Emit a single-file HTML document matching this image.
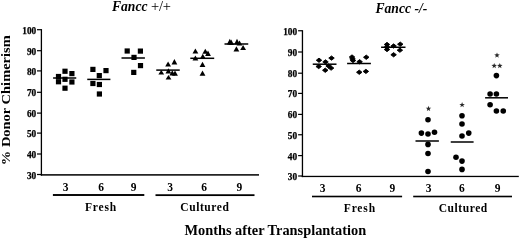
<!DOCTYPE html>
<html><head><meta charset="utf-8"><style>
html,body{margin:0;padding:0;background:#fff;}
body{width:520px;height:240px;overflow:hidden;}
svg{display:block;will-change:transform;filter:blur(0.3px);}
text{font-family:"Liberation Serif",serif;font-weight:bold;fill:#000;}
.tk{font-size:9.3px;stroke:#000;stroke-width:0.25px;}
.cat{font-size:11.5px;}
.grp{font-size:12.4px;}
.xt{font-size:14.35px;}
.ti{font-size:13.6px;}
.yt{font-size:12.5px;}
.ast{font-size:10px;}
</style></head><body>
<svg width="520" height="240" viewBox="0 0 520 240">
<rect width="520" height="240" fill="#fff"/>
<g fill="#000">
<rect x="40.75" y="29.10" width="1.3" height="146.50"/>
<rect x="40.80" y="174.15" width="218.20" height="1.5"/>
<rect x="37.00" y="173.90" width="4.40" height="1.2"/>
<text class="tk" x="36.2" y="178.50" text-anchor="end">30</text>
<rect x="37.00" y="153.40" width="4.40" height="1.2"/>
<text class="tk" x="36.2" y="158.00" text-anchor="end">40</text>
<rect x="37.00" y="132.50" width="4.40" height="1.2"/>
<text class="tk" x="36.2" y="137.10" text-anchor="end">50</text>
<rect x="37.00" y="112.50" width="4.40" height="1.2"/>
<text class="tk" x="36.2" y="117.10" text-anchor="end">60</text>
<rect x="37.00" y="91.70" width="4.40" height="1.2"/>
<text class="tk" x="36.2" y="96.30" text-anchor="end">70</text>
<rect x="37.00" y="70.30" width="4.40" height="1.2"/>
<text class="tk" x="36.2" y="74.90" text-anchor="end">80</text>
<rect x="37.00" y="50.10" width="4.40" height="1.2"/>
<text class="tk" x="36.2" y="54.70" text-anchor="end">90</text>
<rect x="37.00" y="29.10" width="4.40" height="1.2"/>
<text class="tk" x="36.2" y="33.70" text-anchor="end">100</text>
<rect x="301.80" y="30.20" width="1.3" height="146.90"/>
<rect x="301.70" y="175.80" width="217.10" height="1.3"/>
<rect x="298.10" y="175.40" width="4.35" height="1.2"/>
<text class="tk" x="297.1" y="180.00" text-anchor="end">30</text>
<rect x="298.10" y="155.00" width="4.35" height="1.2"/>
<text class="tk" x="297.1" y="159.60" text-anchor="end">40</text>
<rect x="298.10" y="134.15" width="4.35" height="1.2"/>
<text class="tk" x="297.1" y="138.75" text-anchor="end">50</text>
<rect x="298.10" y="113.80" width="4.35" height="1.2"/>
<text class="tk" x="297.1" y="118.40" text-anchor="end">60</text>
<rect x="298.10" y="92.80" width="4.35" height="1.2"/>
<text class="tk" x="297.1" y="97.40" text-anchor="end">70</text>
<rect x="298.10" y="72.60" width="4.35" height="1.2"/>
<text class="tk" x="297.1" y="77.20" text-anchor="end">80</text>
<rect x="298.10" y="51.40" width="4.35" height="1.2"/>
<text class="tk" x="297.1" y="56.00" text-anchor="end">90</text>
<rect x="298.10" y="30.15" width="4.35" height="1.2"/>
<text class="tk" x="297.1" y="34.75" text-anchor="end">100</text>
<text class="cat" x="65.6" y="191.3" text-anchor="middle">3</text>
<text class="cat" x="101.0" y="191.3" text-anchor="middle">6</text>
<text class="cat" x="133.7" y="191.3" text-anchor="middle">9</text>
<text class="cat" x="170.2" y="191.3" text-anchor="middle">3</text>
<text class="cat" x="204.2" y="191.3" text-anchor="middle">6</text>
<text class="cat" x="239.4" y="191.3" text-anchor="middle">9</text>
<text class="cat" x="322.7" y="191.9" text-anchor="middle">3</text>
<text class="cat" x="358.6" y="191.9" text-anchor="middle">6</text>
<text class="cat" x="392.4" y="191.9" text-anchor="middle">9</text>
<text class="cat" x="428.5" y="191.9" text-anchor="middle">3</text>
<text class="cat" x="461.9" y="191.9" text-anchor="middle">6</text>
<text class="cat" x="497.7" y="191.9" text-anchor="middle">9</text>
<rect x="52.90" y="194.05" width="91.40" height="1.9"/>
<rect x="155.50" y="194.25" width="99.00" height="1.8"/>
<rect x="312.00" y="195.70" width="90.10" height="1.6"/>
<rect x="413.20" y="195.70" width="98.80" height="1.6"/>
<text class="grp" transform="translate(101.02,210.6) scale(0.93,1)" x="0" y="0" text-anchor="middle" letter-spacing="0.9">Fresh</text>
<text class="grp" transform="translate(204.88,210.8) scale(0.93,1)" x="0" y="0" text-anchor="middle" letter-spacing="0.6">Cultured</text>
<text class="grp" transform="translate(359.82,211.8) scale(0.93,1)" x="0" y="0" text-anchor="middle" letter-spacing="0.9">Fresh</text>
<text class="grp" transform="translate(463.28,211.8) scale(0.93,1)" x="0" y="0" text-anchor="middle" letter-spacing="0.6">Cultured</text>
<text class="xt" x="275.3" y="235.4" text-anchor="middle">Months after Transplantation</text>
<text class="ti" x="112" y="10.8"><tspan font-style="italic">Fancc</tspan> <tspan font-weight="normal" font-size="14.5px" letter-spacing="-0.2px">+/+</tspan></text>
<text class="ti" x="375.5" y="12.8"><tspan font-style="italic">Fancc -/-</tspan></text>
<text class="yt" transform="translate(10.3,165.2) rotate(-90) scale(1.158,1)" x="0" y="0">% Donor Chimerism</text>
<rect x="62.40" y="68.65" width="5.2" height="5.2"/>
<rect x="69.30" y="71.00" width="5.2" height="5.2"/>
<rect x="55.90" y="73.90" width="5.2" height="5.2"/>
<rect x="55.90" y="79.15" width="5.2" height="5.2"/>
<rect x="62.40" y="76.70" width="5.2" height="5.2"/>
<rect x="69.30" y="79.40" width="5.2" height="5.2"/>
<rect x="62.40" y="85.60" width="5.2" height="5.2"/>
<rect x="53.10" y="77.25" width="23.15" height="1.5"/>
<rect x="90.30" y="66.80" width="5.2" height="5.2"/>
<rect x="103.40" y="68.00" width="5.2" height="5.2"/>
<rect x="96.70" y="73.00" width="5.2" height="5.2"/>
<rect x="90.30" y="80.90" width="5.2" height="5.2"/>
<rect x="96.80" y="81.90" width="5.2" height="5.2"/>
<rect x="96.80" y="91.40" width="5.2" height="5.2"/>
<rect x="87.25" y="78.65" width="23.15" height="1.5"/>
<rect x="124.60" y="48.40" width="5.2" height="5.2"/>
<rect x="137.80" y="48.50" width="5.2" height="5.2"/>
<rect x="131.40" y="54.80" width="5.2" height="5.2"/>
<rect x="137.90" y="63.00" width="5.2" height="5.2"/>
<rect x="131.15" y="69.80" width="5.2" height="5.2"/>
<rect x="121.50" y="57.25" width="23.40" height="1.5"/>
<polygon points="174.40,58.90 171.50,64.50 177.30,64.50"/>
<polygon points="168.10,61.40 165.20,66.50 171.00,66.50"/>
<polygon points="161.25,70.10 158.35,74.50 164.15,74.50"/>
<polygon points="168.40,68.25 165.50,73.50 171.30,73.50"/>
<polygon points="172.30,70.30 169.40,75.50 175.20,75.50"/>
<polygon points="175.00,70.60 172.10,75.70 177.90,75.70"/>
<polygon points="168.50,74.90 165.60,79.50 171.40,79.50"/>
<rect x="156.25" y="69.35" width="23.50" height="1.5"/>
<polygon points="195.40,48.50 192.50,53.50 198.30,53.50"/>
<polygon points="205.30,48.75 202.40,53.75 208.20,53.75"/>
<polygon points="208.00,50.60 205.10,56.00 210.90,56.00"/>
<polygon points="202.80,53.75 199.90,58.75 205.70,58.75"/>
<polygon points="195.40,55.60 192.50,60.60 198.30,60.60"/>
<polygon points="202.50,61.75 199.60,67.00 205.40,67.00"/>
<polygon points="202.50,70.50 199.60,75.75 205.40,75.75"/>
<rect x="190.30" y="57.55" width="23.90" height="1.5"/>
<polygon points="229.80,38.75 226.90,44.40 232.70,44.40"/>
<polygon points="231.20,39.60 228.30,45.00 234.10,45.00"/>
<polygon points="237.00,38.75 234.10,44.40 239.90,44.40"/>
<polygon points="239.50,40.60 236.60,45.60 242.40,45.60"/>
<polygon points="236.40,46.25 233.50,51.50 239.30,51.50"/>
<polygon points="243.10,45.00 240.20,50.00 246.00,50.00"/>
<rect x="224.50" y="43.25" width="23.75" height="1.5"/>
<polygon stroke="#000" stroke-width="0.9" stroke-linejoin="round" points="319.00,58.10 321.75,60.25 319.00,62.40 316.25,60.25"/>
<polygon stroke="#000" stroke-width="0.9" stroke-linejoin="round" points="331.50,55.95 334.25,58.10 331.50,60.25 328.75,58.10"/>
<polygon stroke="#000" stroke-width="0.9" stroke-linejoin="round" points="325.50,59.75 328.25,61.90 325.50,64.05 322.75,61.90"/>
<polygon stroke="#000" stroke-width="0.9" stroke-linejoin="round" points="318.70,64.35 321.45,66.50 318.70,68.65 315.95,66.50"/>
<polygon stroke="#000" stroke-width="0.9" stroke-linejoin="round" points="328.60,63.85 331.35,66.00 328.60,68.15 325.85,66.00"/>
<polygon stroke="#000" stroke-width="0.9" stroke-linejoin="round" points="331.10,65.95 333.85,68.10 331.10,70.25 328.35,68.10"/>
<polygon stroke="#000" stroke-width="0.9" stroke-linejoin="round" points="325.25,68.10 328.00,70.25 325.25,72.40 322.50,70.25"/>
<rect x="312.75" y="63.45" width="23.75" height="1.5"/>
<polygon stroke="#000" stroke-width="0.9" stroke-linejoin="round" points="352.00,54.85 354.75,57.00 352.00,59.15 349.25,57.00"/>
<polygon stroke="#000" stroke-width="0.9" stroke-linejoin="round" points="352.50,56.65 355.25,58.80 352.50,60.95 349.75,58.80"/>
<polygon stroke="#000" stroke-width="0.9" stroke-linejoin="round" points="353.00,58.35 355.75,60.50 353.00,62.65 350.25,60.50"/>
<polygon stroke="#000" stroke-width="0.9" stroke-linejoin="round" points="366.25,55.10 369.00,57.25 366.25,59.40 363.50,57.25"/>
<polygon stroke="#000" stroke-width="0.9" stroke-linejoin="round" points="359.60,59.60 362.35,61.75 359.60,63.90 356.85,61.75"/>
<polygon stroke="#000" stroke-width="0.9" stroke-linejoin="round" points="359.25,70.10 362.00,72.25 359.25,74.40 356.50,72.25"/>
<polygon stroke="#000" stroke-width="0.9" stroke-linejoin="round" points="365.90,69.25 368.65,71.40 365.90,73.55 363.15,71.40"/>
<rect x="347.10" y="62.75" width="23.80" height="1.5"/>
<polygon stroke="#000" stroke-width="0.9" stroke-linejoin="round" points="387.00,42.35 389.75,44.50 387.00,46.65 384.25,44.50"/>
<polygon stroke="#000" stroke-width="0.9" stroke-linejoin="round" points="387.00,44.85 389.75,47.00 387.00,49.15 384.25,47.00"/>
<polygon stroke="#000" stroke-width="0.9" stroke-linejoin="round" points="387.00,47.35 389.75,49.50 387.00,51.65 384.25,49.50"/>
<polygon stroke="#000" stroke-width="0.9" stroke-linejoin="round" points="393.60,43.85 396.35,46.00 393.60,48.15 390.85,46.00"/>
<polygon stroke="#000" stroke-width="0.9" stroke-linejoin="round" points="400.25,42.05 403.00,44.20 400.25,46.35 397.50,44.20"/>
<polygon stroke="#000" stroke-width="0.9" stroke-linejoin="round" points="399.90,48.05 402.65,50.20 399.90,52.35 397.15,50.20"/>
<polygon stroke="#000" stroke-width="0.9" stroke-linejoin="round" points="393.60,52.60 396.35,54.75 393.60,56.90 390.85,54.75"/>
<rect x="381.10" y="46.50" width="24.40" height="1.5"/>
<circle cx="428.00" cy="119.75" r="2.8"/>
<circle cx="421.40" cy="133.10" r="2.8"/>
<circle cx="428.00" cy="134.00" r="2.8"/>
<circle cx="434.50" cy="132.25" r="2.8"/>
<circle cx="428.00" cy="144.40" r="2.8"/>
<circle cx="428.00" cy="153.50" r="2.8"/>
<circle cx="428.00" cy="171.50" r="2.8"/>
<rect x="415.50" y="140.25" width="23.40" height="1.5"/>
<circle cx="462.00" cy="115.80" r="2.8"/>
<circle cx="462.00" cy="124.00" r="2.8"/>
<circle cx="468.75" cy="133.10" r="2.8"/>
<circle cx="462.00" cy="136.00" r="2.8"/>
<circle cx="456.00" cy="157.25" r="2.8"/>
<circle cx="462.00" cy="161.10" r="2.8"/>
<circle cx="462.00" cy="169.40" r="2.8"/>
<rect x="450.75" y="141.25" width="22.85" height="1.5"/>
<circle cx="496.40" cy="75.60" r="2.8"/>
<circle cx="490.10" cy="94.00" r="2.8"/>
<circle cx="496.40" cy="94.00" r="2.8"/>
<circle cx="490.10" cy="104.75" r="2.8"/>
<circle cx="496.40" cy="111.00" r="2.8"/>
<circle cx="503.25" cy="111.00" r="2.8"/>
<rect x="485.10" y="97.05" width="22.90" height="1.5"/>
<polygon fill="#2a2a2a" points="428.50,105.80 429.21,107.73 431.26,107.80 429.64,109.07 430.20,111.05 428.50,109.90 426.80,111.05 427.36,109.07 425.74,107.80 427.79,107.73"/>
<polygon fill="#2a2a2a" points="462.10,102.00 462.81,103.93 464.86,104.00 463.24,105.27 463.80,107.25 462.10,106.10 460.40,107.25 460.96,105.27 459.34,104.00 461.39,103.93"/>
<polygon fill="#2a2a2a" points="497.00,52.40 497.71,54.33 499.76,54.40 498.14,55.67 498.70,57.65 497.00,56.50 495.30,57.65 495.86,55.67 494.24,54.40 496.29,54.33"/>
<polygon fill="#2a2a2a" points="494.20,62.90 494.91,64.83 496.96,64.90 495.34,66.17 495.90,68.15 494.20,67.00 492.50,68.15 493.06,66.17 491.44,64.90 493.49,64.83"/>
<polygon fill="#2a2a2a" points="499.80,62.90 500.51,64.83 502.56,64.90 500.94,66.17 501.50,68.15 499.80,67.00 498.10,68.15 498.66,66.17 497.04,64.90 499.09,64.83"/>
</g>
</svg>
</body></html>
